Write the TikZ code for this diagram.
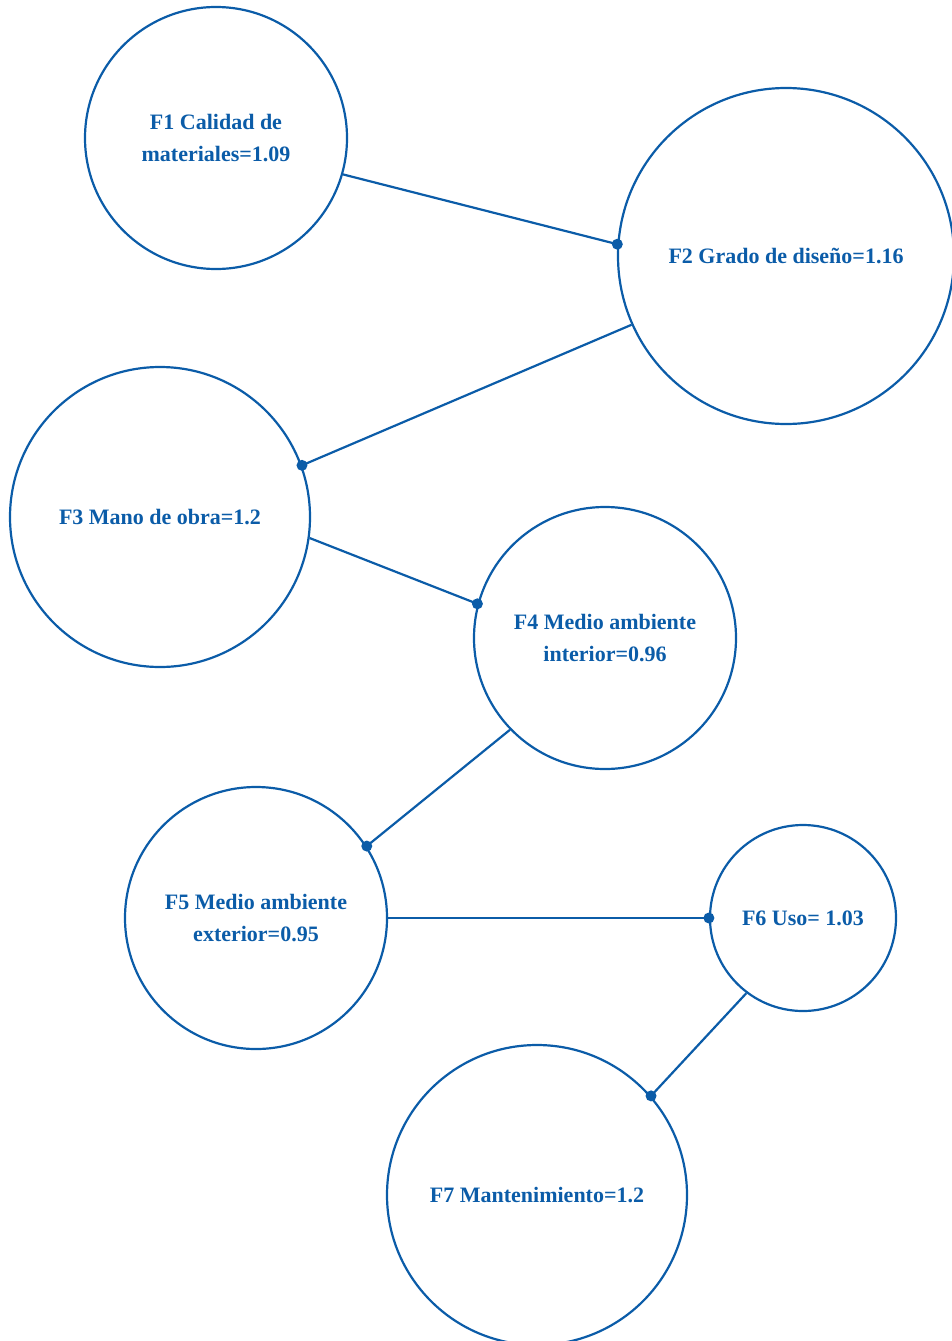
\documentclass[tikz,border=0pt]{standalone}
\usepackage{fontspec}
\setmainfont{Liberation Serif}
\definecolor{azul}{HTML}{0B5CA8}

\begin{document}
\begin{tikzpicture}[x=1pt, y=-1pt,
    factor/.style={circle, draw=azul, line width=2.2pt, inner sep=0pt, align=center,
      text=azul, font=\fontsize{22}{32}\selectfont\bfseries},
    link/.style={draw=azul, line width=2.2pt},
    dot/.style={fill=azul}]
      \useasboundingbox (0,0) rectangle (952,1341);
      \node[factor, minimum size=262pt] (f1) at (216,138) {F1 Calidad de\\materiales=1.09};
      \node[factor, minimum size=336pt] (f2) at (786,256) {F2 Grado de diseño=1.16};
      \node[factor, minimum size=300pt] (f3) at (160,517) {F3 Mano de obra=1.2};
      \node[factor, minimum size=262pt] (f4) at (605,638) {F4 Medio ambiente\\interior=0.96};
      \node[factor, minimum size=262pt] (f5) at (256,918) {F5 Medio ambiente\\exterior=0.95};
      \node[factor, minimum size=186pt] (f6) at (803,918) {F6 Uso= 1.03};
      \node[factor, minimum size=300pt] (f7) at (537,1195) {F7 Mantenimiento=1.2};
      % connectors, dot on the second circle
      \draw[link] (f1.-16) -- (f2.176);   \fill[dot] (f2.176) circle (5.5pt);
      \draw[link] (f2.204) -- (f3.20);    \fill[dot] (f3.20) circle (5.5pt);
      \draw[link] (f3.-8) -- (f4.165);    \fill[dot] (f4.165) circle (5.5pt);
      \draw[link] (f4.224) -- (f5.33);    \fill[dot] (f5.33) circle (5.5pt);
      \draw[link] (f5.0) -- (f6.180);     \fill[dot] (f6.180) circle (5.5pt);
      \draw[link] (f6.233) -- (f7.41);    \fill[dot] (f7.41) circle (5.5pt);
    \end{tikzpicture}
\end{document}
